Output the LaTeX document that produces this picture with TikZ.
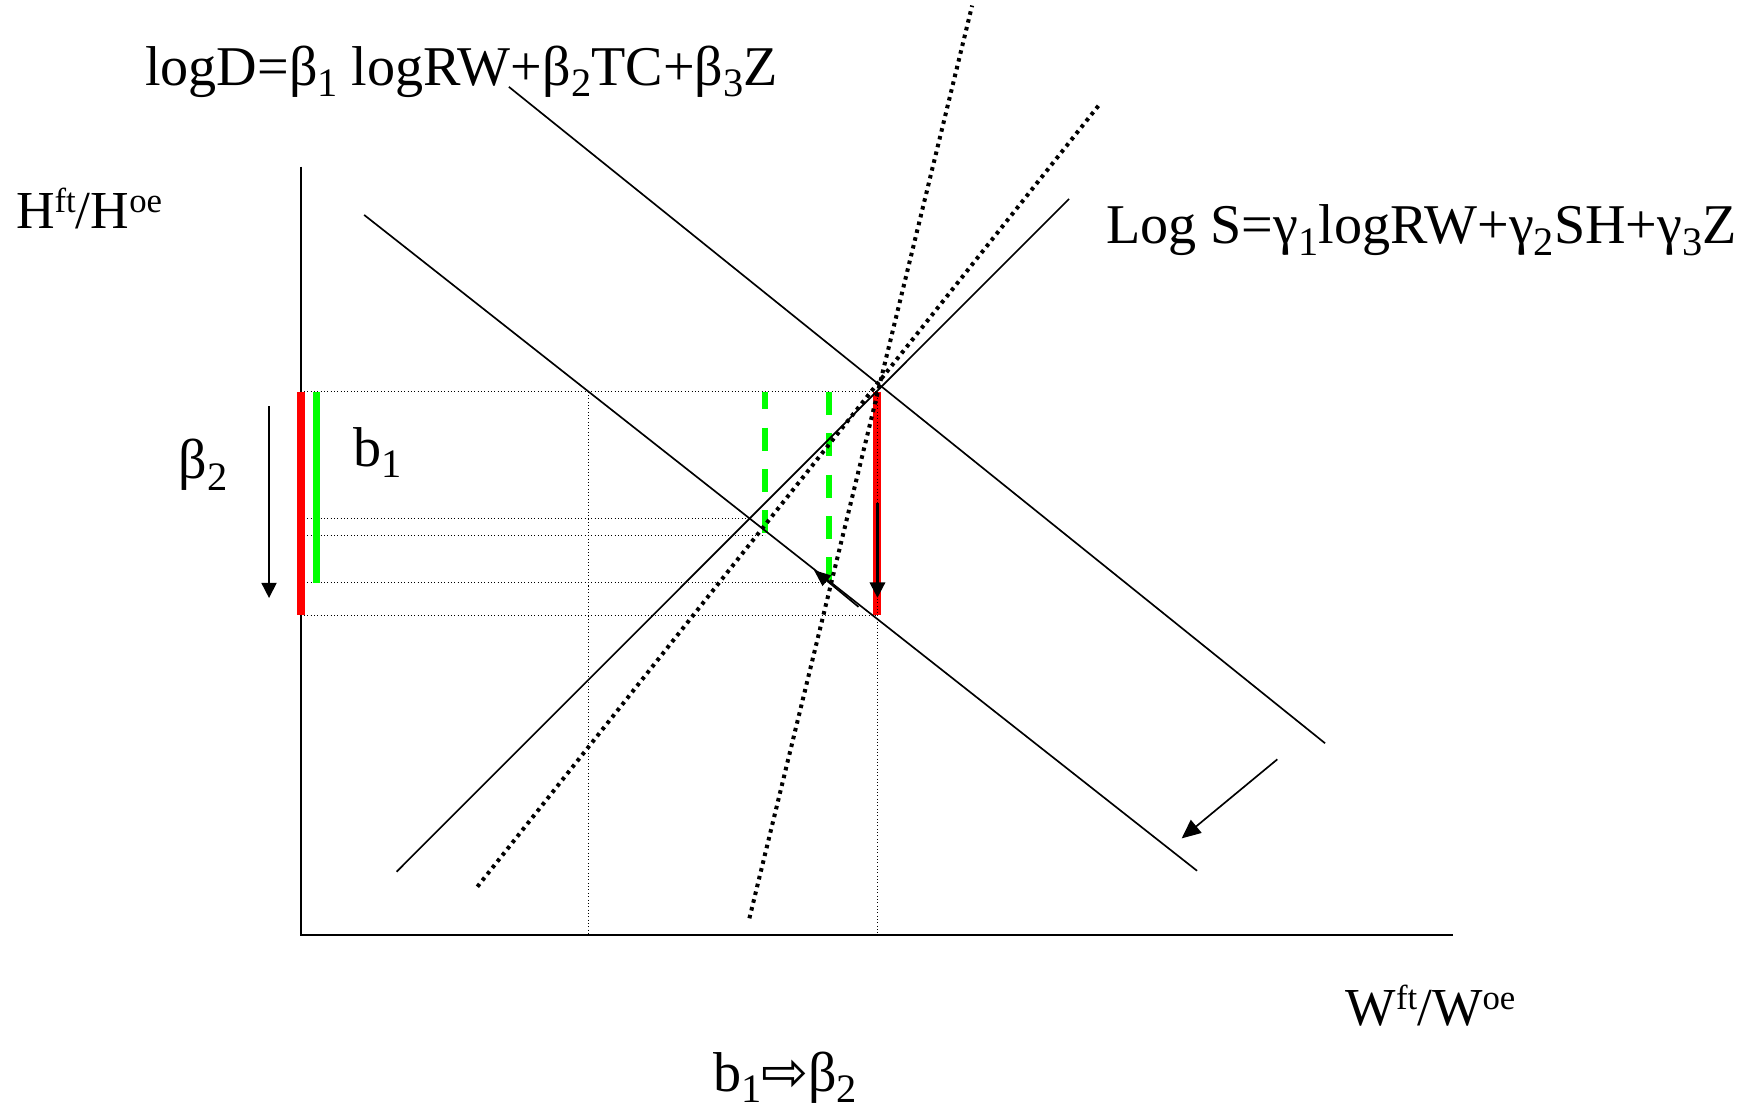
\documentclass[tikz,border=0pt]{standalone}
\usepackage{fontspec}
\usepackage{graphicx}
\setmainfont{Liberation Serif}
\newfontfamily\symfont{DejaVu Sans}
\usetikzlibrary{arrows.meta}
\definecolor{brightgreen}{RGB}{0,255,0}
\definecolor{brightred}{RGB}{255,0,0}
\newcommand{\mysub}[1]{\raisebox{-0.2em}{\scalebox{0.72}{#1}}}
\newcommand{\mysup}[1]{\raisebox{0.3em}{\scalebox{0.65}{#1}}}
\begin{document}
\begin{tikzpicture}[x=0.5pt,y=-0.5pt,
  thinline/.style={line width=0.75pt},
  axisline/.style={line width=0.9pt},
  finedots/.style={line width=0.45pt, dash pattern=on 0.45pt off 1.05pt},
  bigdots/.style={line width=1.8pt, dash pattern=on 1.6pt off 2pt},
  redbar/.style={brightred, line width=3.6pt},
  greenbar/.style={brightgreen, line width=3.3pt},
  greendash/.style={brightgreen, line width=2.8pt, dash pattern=on 10.35pt off 8.25pt},
  lbl/.style={anchor=base west, inner sep=0pt, font=\fontsize{25.2pt}{30pt}\selectfont},
  eqlbl/.style={anchor=base west, inner sep=0pt, font=\fontsize{25.2pt}{30pt}\selectfont},
  axlbl/.style={anchor=base west, inner sep=0pt, font=\fontsize{24pt}{28pt}\selectfont}
]
\fill[white] (0,0) rectangle (1568,997);
\useasboundingbox (0,0) rectangle (1568,997);

% coordinates
\coordinate (O) at (270,839.7);
\coordinate (Ytop) at (270,149.7);
\coordinate (Xend) at (1305,839.7);
\coordinate (D1a) at (457,78);
\coordinate (D1b) at (1190,667.5);
\coordinate (D2a) at (327,193);
\coordinate (D2b) at (1075,782);
\coordinate (Sa) at (356.2,782.8);
\coordinate (Sb) at (960,178.7);
\coordinate (Fa) at (428.7,796.3);
\coordinate (Fb) at (988,93);
\coordinate (Ga) at (673,824.7);
\coordinate (Gb) at (873,5);

% axes
\draw[axisline] (Ytop) -- (O) -- (Xend);

% thin dotted guides
\draw[finedots] (270,351.8) coordinate (h1a) -- (788,351.8) coordinate (h1b);
\draw[finedots] (270,466) coordinate (h2a) -- (673.5,466) coordinate (h2b);
\draw[finedots] (270,480.5) coordinate (h3a) -- (687,480.5) coordinate (h3b);
\draw[finedots] (270,523.3) coordinate (h4a) -- (744.5,523.3) coordinate (h4b);
\draw[finedots] (270,552.3) coordinate (h5a) -- (788,552.3) coordinate (h5b);
\draw[finedots] (528.4,351.8) coordinate (v1a) -- (528.4,839.7) coordinate (v1b);

% red bars
\draw[redbar] (270,351.8) coordinate (r1a) -- (270,552.3) coordinate (r1b);
\draw[redbar] (788,351.8) coordinate (r2a) -- (788,552.3) coordinate (r2b);
\draw[finedots] (788,552.3) coordinate (v2a) -- (788,839.7) coordinate (v2b);
\draw[finedots] (788,351.8) -- (788,552.3);

% green bars
\draw[greenbar] (284.4,351.8) coordinate (g1a) -- (284.4,523.3) coordinate (g1b);
\draw[greendash, dash phase=2.5pt] (687,351.8) coordinate (g2a) -- (687,480.5) coordinate (g2b);
\draw[greendash] (744.5,351.8) coordinate (g3a) -- (744.5,523.3) coordinate (g3b);

% demand lines
\draw[thinline] (D1a) -- (D1b);
\draw[thinline] (D2a) -- (D2b);
% supply lines
\draw[thinline] (Sa) -- (Sb);
\draw[bigdots] (Fa) -- (Fb);
\draw[bigdots] (Ga) -- (Gb);

% arrows
\draw[thinline, -{Triangle[length=6.75pt, width=6.75pt]}] (241.6,365) coordinate (a1a) -- (241.6,537) coordinate (a1b);
\draw[line width=1.5pt, -{Triangle[length=7pt, width=6.75pt]}] (788,452) coordinate (a2a) -- (788,537) coordinate (a2b);
\draw[thinline, -{Triangle[length=8.5pt, width=7.5pt]}] (1147.1,681.9) coordinate (a3a) -- (1061.2,752.9) coordinate (a3b);
\draw[thinline, -{Triangle[length=7.5pt, width=6pt]}] (771,545) coordinate (a4a) -- (731,512) coordinate (a4b);

% labels
\node[eqlbl] (eqD) at (130,77) {logD=β\mysub{1} logRW+β\mysub{2}TC+β\mysub{3}Z};
\node[eqlbl] (eqS) at (993,219) {Log S=γ\mysub{1}logRW+γ\mysub{2}SH+γ\mysub{3}Z};
\node[axlbl] (hl) at (14,205) {H\mysup{ft}/H\mysup{oe}};
\node[axlbl] (wl) at (1208,921) {W\mysup{ft}/W\mysup{oe}};
\node[lbl] (beta) at (160,430) {β\mysub{2}};
\node[lbl] (bone) at (317,419) {b\mysub{1}};
\node[lbl] (bb) at (640,980) {b\mysub{1}{\symfont ⇨}β\mysub{2}};
\end{tikzpicture}
\end{document}
